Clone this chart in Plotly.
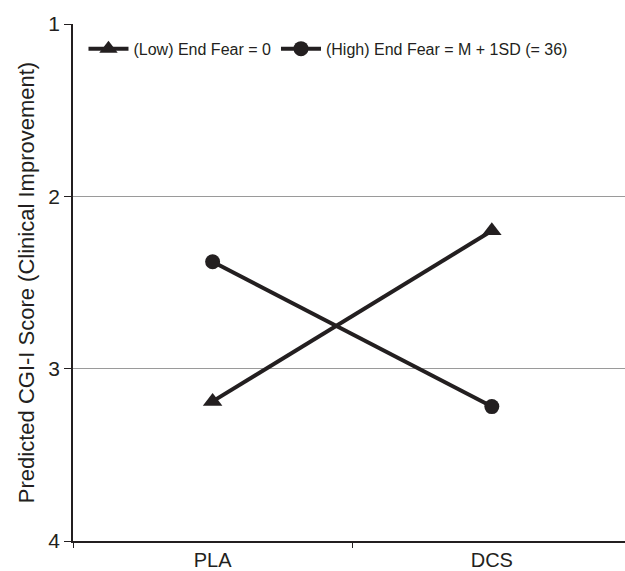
import plotly.graph_objects as go

categories = ["PLA", "DCS"]
low_fear = [3.19, 2.20]
high_fear = [2.38, 3.22]
series_names = ["(Low) End Fear = 0", "(High) End Fear = M + 1SD (= 36)"]
y_ticks = [1, 2, 3, 4]

color = "#231f20"
fig = go.Figure()
fig.add_trace(go.Scatter(x=categories, y=low_fear, name=series_names[0], mode="lines+markers",
                         line=dict(color=color, width=4),
                         marker=dict(symbol="triangle-up", size=17, color=color)))
fig.add_trace(go.Scatter(x=categories, y=high_fear, name=series_names[1], mode="lines+markers",
                         line=dict(color=color, width=4),
                         marker=dict(symbol="circle", size=15, color=color)))

fig.update_layout(
    width=625, height=571,
    margin=dict(l=73, r=0, t=24, b=30),
    plot_bgcolor="white", paper_bgcolor="white",
    font=dict(family="Liberation Sans, Arial, sans-serif", color="#231f20"),
    legend=dict(orientation="h", x=0.019, y=0.985, xanchor="left", yanchor="top",
                font=dict(size=16), bgcolor="rgba(0,0,0,0)", itemwidth=40),
    showlegend=True,
)
fig.update_xaxes(type="category", range=[-0.5, 1.477], showline=True, linecolor="#231f20",
                 linewidth=1.5, ticks="outside", tickson="boundaries", ticklen=5,
                 tickcolor="#231f20", showgrid=False, tickfont=dict(size=20), zeroline=False)
fig.update_yaxes(range=[4, 1], tickvals=y_ticks, showline=True, linecolor="#231f20",
                 linewidth=1.5, ticks="outside", ticklen=7, tickcolor="#231f20",
                 showgrid=True, gridcolor="#9a9a9a", gridwidth=1, zeroline=False,
                 tickfont=dict(size=21),
                 title=dict(text="Predicted CGI-I Score (Clinical Improvement)", font=dict(size=22), standoff=8))

fig.write_html("out.html", config={"displayModeBar": False},
               post_script="document.body.style.margin='0';document.body.style.padding='0';")
